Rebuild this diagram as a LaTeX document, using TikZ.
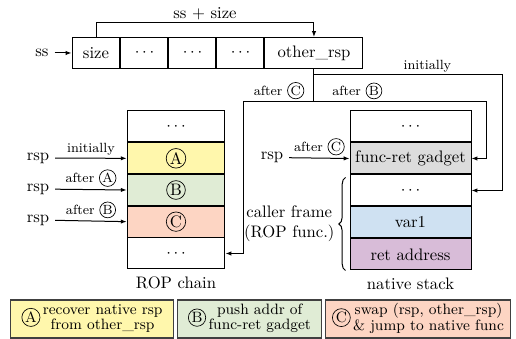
\documentclass[tikz,border=0pt]{standalone}
\usetikzlibrary{positioning,arrows.meta,decorations.pathreplacing,calc}
\definecolor{ayellow}{RGB}{255,247,172}
\definecolor{bgreen}{RGB}{224,236,213}
\definecolor{csalmon}{RGB}{253,213,195}
\definecolor{gadgetgray}{RGB}{220,220,220}
\definecolor{varblue}{RGB}{207,225,242}
\definecolor{retpurple}{RGB}{216,188,216}
\tikzset{
  cell/.style={draw,minimum height=18.6pt,inner sep=0pt},
  ropcell/.style={cell,minimum width=58.8pt},
  natcell/.style={cell,minimum width=72.6pt},
  lbl/.style={font=\footnotesize,above,inner sep=1.5pt},
  legend box/.style={draw=black!75,line width=0.8pt,minimum height=22.8pt,inner sep=1pt,font=\small},
}
\newcommand{\cletter}[1]{\tikz[baseline=(cl.base)]\node[circle,draw,solid,fill=none,line width=0.4pt,
  minimum size=0pt,minimum width=0pt,minimum height=0pt,inner sep=0.5pt,anchor=center] (cl) {#1};}

\begin{document}
\begin{tikzpicture}[x=0.6pt,y=-0.6pt,>={Latex[length=3.5pt,width=2.6pt]},semithick]
  \useasboundingbox (0,0) rectangle (516,339);

  % shared array
  \node[cell,minimum width=28.8pt] (size) at (96,53) {size};
  \node[cell,minimum width=28.2pt,right=0pt of size] (dA) {$\cdots$};
  \node[cell,minimum width=28.2pt,right=0pt of dA] (dB) {$\cdots$};
  \node[cell,minimum width=28.2pt,right=0pt of dB] (dC) {$\cdots$};
  \node[cell,minimum width=58.8pt,right=0pt of dC] (orsp) {other\_rsp};
  \node (ss) at (42,53) {ss};
  \draw[->] (ss) -- (size);
  \draw[->] (size.north) -- ++(0,-14) -| node[pos=0.25,above,inner sep=1.5pt] {ss + size} (orsp.north);

  % ROP chain
  \node[ropcell] (r1) at (176,126.5) {$\cdots$};
  \node[ropcell,fill=ayellow,below=0pt of r1] (r2) {\cletter{A}};
  \node[ropcell,fill=bgreen,below=0pt of r2] (r3) {\cletter{B}};
  \node[ropcell,fill=csalmon,below=0pt of r3] (r4) {\cletter{C}};
  \node[ropcell,below=0pt of r4] (r5) {$\cdots$};
  \node[below=1pt of r5] {ROP chain};

  \node (rspa) at (38,158) {rsp};
  \node (rspb) at (38,189) {rsp};
  \node (rspc) at (38,220) {rsp};
  \draw[->] (rspa) -- node[lbl] {initially} (r2.west);
  \draw[->] (rspb) -- node[lbl] {after \cletter{A}} (r3.west);
  \draw[->] (rspc) -- node[lbl] {after \cletter{B}} (r4.west);

  % native stack
  \node[natcell] (n1) at (410.5,126.5) {$\cdots$};
  \node[natcell,fill=gadgetgray,below=0pt of n1] (n2) {func-ret gadget};
  \node[natcell,below=0pt of n2] (n3) {$\cdots$};
  \node[natcell,fill=varblue,below=0pt of n3] (n4) {var1};
  \node[natcell,fill=retpurple,below=0pt of n4] (n5) {ret address};
  \node[below=1pt of n5] {native stack};

  \node (rspn) at (272,157.5) {rsp};
  \draw[->] (rspn) -- node[lbl] {after \cletter{C}} (n2.west);
  \draw[decorate,decoration={brace,amplitude=4pt}] ($(n5.south west)+(-4,0)$) -- ($(n3.north west)+(-4,3)$)
    node[midway,left=3pt,align=center] {caller frame\\(ROP func.)};

  % other_rsp links
  \path (orsp.south) ++(0,33) coordinate (j);
  \path (orsp.south) ++(0,6) coordinate (k);
  \draw (orsp.south) -- (j);
  \draw[->] (k) -- node[lbl,pos=0.6] {initially} ++(189,0) |- (n3.east);
  \draw[->] (j) -- node[lbl,pos=0.25] {after \cletter{B}} ++(173,0) |- (n2.east);
  \draw[->] (j) -- node[lbl] {after \cletter{C}} ++(-70,0) |- (r5.east);

  % legend
  \renewcommand{\arraystretch}{0.85}
  \node[legend box,fill=ayellow,minimum width=97.8pt] (la) at (92,319)
    {\cletter{A}\,\begin{tabular}{@{}c@{}}recover native rsp\\from other\_rsp\end{tabular}};
  \node[legend box,fill=bgreen,minimum width=86.4pt] (lb) at (249.5,319)
    {\cletter{B}\,\begin{tabular}{@{}c@{}}push addr of\\func-ret gadget\end{tabular}};
  \node[legend box,fill=csalmon,minimum width=111pt] (lc) at (418,319)
    {\cletter{C}\,\begin{tabular}{@{}c@{}}swap (rsp, other\_rsp)\\\& jump to native func\end{tabular}};
\end{tikzpicture}
\end{document}
